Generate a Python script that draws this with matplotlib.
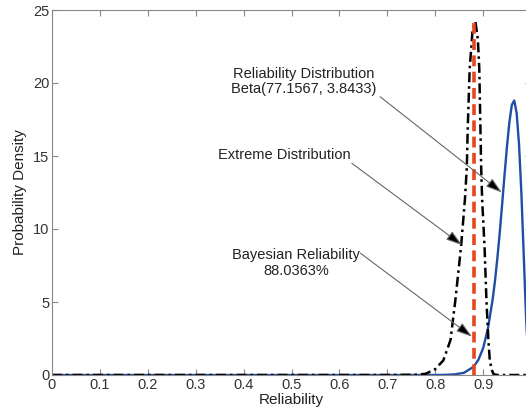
import matplotlib
matplotlib.use('Agg')
import matplotlib.pyplot as plt

# reliability (beta) density
beta_x = [0.0, 0.80, 0.82, 0.84, 0.86, 0.88, 0.89, 0.90, 0.91, 0.92, 0.925, 0.93, 0.935,
          0.94, 0.945, 0.95, 0.955, 0.96, 0.965, 0.97, 0.975, 0.98, 0.985, 0.99, 0.995, 1.0]
beta_y = [0.0, 0.0, 0.01, 0.04, 0.15, 0.56, 1.03, 1.83, 3.16, 5.19, 6.5, 8.08, 9.85,
          11.8, 13.8, 15.7, 17.35, 18.5, 18.8, 17.95, 15.8, 12.4, 8.05, 3.7, 0.76, 0.0]

# extreme distribution density
ext_x = [0.0, 0.70, 0.76, 0.78, 0.80, 0.817, 0.832, 0.842, 0.854, 0.862, 0.866, 0.868,
         0.872, 0.878, 0.884, 0.889, 0.892, 0.896, 0.898, 0.903, 0.907, 0.911, 0.914,
         0.918, 0.922, 0.93, 1.0]
ext_y = [0.0, 0.0, 0.02, 0.08, 0.4, 1.0, 2.4, 5.1, 8.8, 12.0, 14.2, 17.0,
         21.0, 23.6, 24.2, 23.0, 21.0, 14.2, 12.0, 8.8, 5.1, 2.4, 1.0,
         0.35, 0.05, 0.0, 0.0]

bayes_rel = 0.880363
bayes_top = 24.2

xticks = [0, 0.1, 0.2, 0.3, 0.4, 0.5, 0.6, 0.7, 0.8, 0.9]
xlabels = ['0', '0.1', '0.2', '0.3', '0.4', '0.5', '0.6', '0.7', '0.8', '0.9']
yticks = [0, 5, 10, 15, 20, 25]

plt.rcParams['font.family'] = ['Liberation Sans', 'DejaVu Sans']

fig = plt.figure(figsize=(5.26, 4.12), dpi=100)
ax = fig.add_axes([52 / 526, 37 / 412, 479 / 526, 365 / 412])

ax.plot(beta_x, beta_y, color='#1f4ea6', lw=1.7)
ax.plot(ext_x, ext_y, color='black', lw=1.8, linestyle=(0, (4, 1.6, 1, 1.6)))
ax.plot([bayes_rel, bayes_rel], [0, bayes_top], color='#e8461e', lw=2.6, linestyle=(0, (3, 1.5)))

ax.set_xlim(0, 1)
ax.set_ylim(0, 25)
ax.set_xticks(xticks)
ax.set_xticklabels(xlabels)
ax.set_yticks(yticks)
ax.tick_params(direction='in', top=True, right=True, length=4, width=0.8,
               color='#888888', labelcolor='#333333', labelsize=10.5, pad=2)
for s in ax.spines.values():
    s.set_color('#888888')
    s.set_linewidth(0.8)

ax.set_xlabel('Reliability', fontsize=11, color='#222222', labelpad=1)
ax.set_ylabel('Probability Density', fontsize=11, color='#222222', labelpad=4)

arrow = dict(arrowstyle='-|>,head_length=0.7,head_width=0.22', fc='black', ec='#666666',
             lw=0.8, mutation_scale=14, shrinkA=0, shrinkB=0)
ax.annotate('', xy=(0.939, 12.5), xytext=(0.685, 19.06), arrowprops=arrow)
ax.annotate('', xy=(0.856, 8.9), xytext=(0.626, 14.5), arrowprops=arrow)
ax.annotate('', xy=(0.877, 2.62), xytext=(0.644, 8.34), arrowprops=arrow)

txt = dict(ha='center', va='center', fontsize=10.5, color='#222222', linespacing=1.1)
ax.text(0.525, 20.1, 'Reliability Distribution\nBeta(77.1567, 3.8433)', **txt)
ax.text(0.485, 15.07, 'Extreme Distribution', **txt)
ax.text(0.51, 7.67, 'Bayesian Reliability\n88.0363%', **txt)

fig.savefig('out.png', dpi=100)
